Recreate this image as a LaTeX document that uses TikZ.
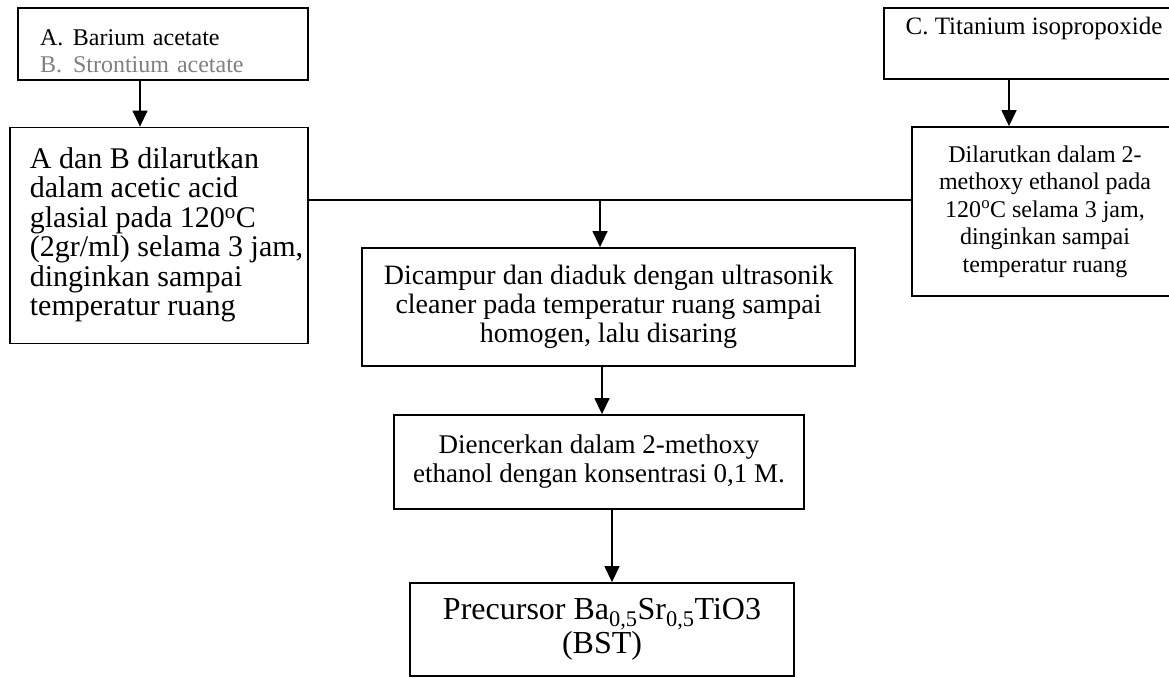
\documentclass[tikz,border=0pt]{standalone}
\usepackage{fontspec}
\setmainfont{Liberation Serif}
\usetikzlibrary{arrows.meta}

\begin{document}
\begin{tikzpicture}[x=1pt, y=-1pt,
    box/.style={draw, line width=1.8pt, inner sep=0pt, align=center},
    link/.style={line width=1.4pt},
    arr/.style={link, -{Triangle[width=15pt, length=16pt]}}]

    \useasboundingbox (0,0) rectangle (1169,677);
    \clip (0,0) rectangle (1169,677);

    % Starting materials
    \node[box, align=left, inner xsep=22pt, text width=246pt, minimum height=72pt,
        text height=17pt, text depth=14pt,
        font=\fontsize{24pt}{27pt}\selectfont] (ab) at (163,44)
        {\makebox[33pt][l]{A.}Barium acetate\\
         \textcolor{black!50}{\makebox[33pt][l]{B.}Strontium acetate}};
    \node[box, minimum width=300pt, minimum height=71pt, text height=17pt, text depth=34pt,
        font=\fontsize{25pt}{28pt}\selectfont] (tc) at (1034,43.5)
        {C. Titanium isopropoxide};

    % Dissolving
    \node[box, minimum width=298pt, minimum height=216pt,
        font=\fontsize{30pt}{29pt}\selectfont] (solab) at (159,235.5)
        {\begin{tabular}{@{\hspace{20pt}}l@{\hspace{5pt}}}
         A dan B dilarutkan\\
         dalam acetic acid\\
         glasial pada 120\textsuperscript{o}C\\
         (2gr/ml) selama 3 jam,\\
         dinginkan sampai\\
         temperatur ruang
         \end{tabular}};
    \node[box, minimum width=266pt, minimum height=169pt,
        font=\fontsize{24pt}{27.5pt}\selectfont] (soltc) at (1045,211.5)
        {Dilarutkan dalam 2-\\
         methoxy ethanol pada\\
         120\textsuperscript{o}C selama 3 jam,\\
         dinginkan sampai\\
         temperatur ruang};

    % Mixing and dilution
    \node[box, minimum width=493pt, minimum height=118pt,
        font=\fontsize{28pt}{29pt}\selectfont] (mix) at (608.5,307)
        {Dicampur dan diaduk dengan ultrasonik\\
         cleaner pada temperatur ruang sampai\\
         homogen, lalu disaring};
    \node[box, minimum width=410pt, minimum height=94pt,
        font=\fontsize{27pt}{29pt}\selectfont] (dil) at (599,462)
        {Diencerkan dalam 2-methoxy\\
         ethanol dengan konsentrasi 0,1 M.};
    \node[box, minimum width=384pt, minimum height=93pt,
        font=\fontsize{32pt}{34pt}\selectfont] (bst) at (602,629.5)
        {Precursor Ba\textsubscript{0,5}Sr\textsubscript{0,5}TiO3\\
         (BST)};

    % Connectors
    \coordinate (ka) at (140,0);
    \coordinate (kc) at (1009,0);
    \coordinate (kj) at (600,200);
    \coordinate (kd) at (602,0);
    \coordinate (kb) at (612,0);

    \draw[arr] (ab.south -| ka) -- (solab.north -| ka);
    \draw[arr] (tc.south -| kc) -- (soltc.north -| kc);
    \draw[link] (solab.east |- kj) -- (soltc.west |- kj);
    \draw[arr] (kj) -- (mix.north -| kj);
    \draw[arr] (mix.south -| kd) -- (dil.north -| kd);
    \draw[arr] (dil.south -| kb) -- (bst.north -| kb);

\end{tikzpicture}
\end{document}
